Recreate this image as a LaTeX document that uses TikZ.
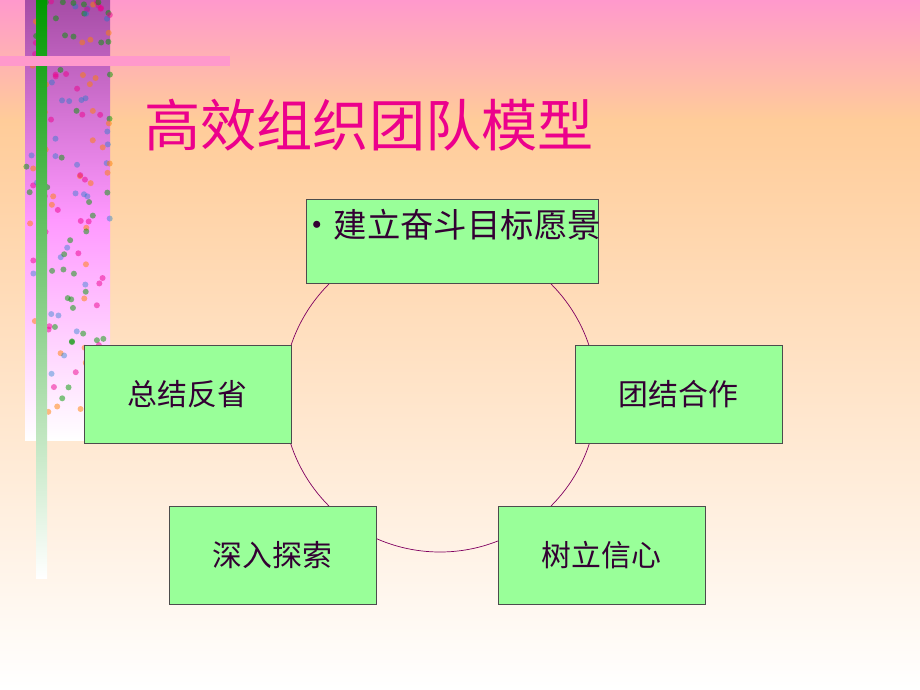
\documentclass[tikz,border=0pt]{standalone}
\usepackage{fontspec}
\newfontfamily\cjk{Noto Sans CJK SC}
\usetikzlibrary{positioning}
\definecolor{boxgreen}{HTML}{99FF99}
\definecolor{ringpurple}{HTML}{800060}
\definecolor{textpurple}{HTML}{330033}
\definecolor{toppink}{HTML}{FF99CC}
\definecolor{peach}{HTML}{FFCC99}
\tikzset{
  step box/.style={draw=black!70, fill=boxgreen, minimum width=4.14cm, minimum height=1.96cm,
    text=textpurple, font=\cjk\fontsize{17}{20}\selectfont},
}
\begin{document}
\begin{tikzpicture}[x=0.02cm,y=-0.02cm]
  % background
  \shade[top color=toppink, bottom color=peach] (0,0) rectangle (920,120);
  \shade[top color=peach, bottom color=white] (0,120) rectangle (920,690);
  \useasboundingbox (0,0) rectangle (920,690);
  % left decoration
  \shade[top color=violet!70, bottom color=white, middle color=magenta!40] (25,0) rectangle (110,440);
  \foreach \i in {1,...,160}{
    \pgfmathsetmacro{\px}{25+85*rnd}
    \pgfmathsetmacro{\py}{430*rnd^1.3}
    \pgfmathsetmacro{\pc}{int(4*rnd)}
    \ifcase\pc \fill[green!60!black, opacity=.5] (\px,\py) circle (3);
    \or \fill[orange, opacity=.5] (\px,\py) circle (3);
    \or \fill[magenta, opacity=.5] (\px,\py) circle (3);
    \else \fill[cyan!60!blue, opacity=.4] (\px,\py) circle (3);
    \fi
  }
  \shade[top color=green!60!black, bottom color=white] (36,0) rectangle (47,578);
  \fill[pink!80!magenta] (0,56) rectangle (230,66);
  % title
  \node[anchor=west, text=magenta, font=\cjk\fontsize{32}{36}\selectfont] (title) at (138,125) {高效组织团队模型};
  % ring
  \draw[ringpurple] (440,395) circle (157);
  % boxes
  \node[step box, minimum width=5.84cm, minimum height=1.68cm] (goal) at (452,241) {};
  \node[anchor=north west, text=textpurple, font=\cjk\fontsize{19}{22}\selectfont, inner sep=0pt] at (300,209) {•建立奋斗目标愿景};
  \node[step box] (review) at (187.5,394) {总结反省};
  \node[step box] (team) at (678.5,394) {团结合作};
  \node[step box] (explore) at (272.5,555.5) {深入探索};
  \node[step box] (trust) at (601.5,555.5) {树立信心};
\end{tikzpicture}
\end{document}
